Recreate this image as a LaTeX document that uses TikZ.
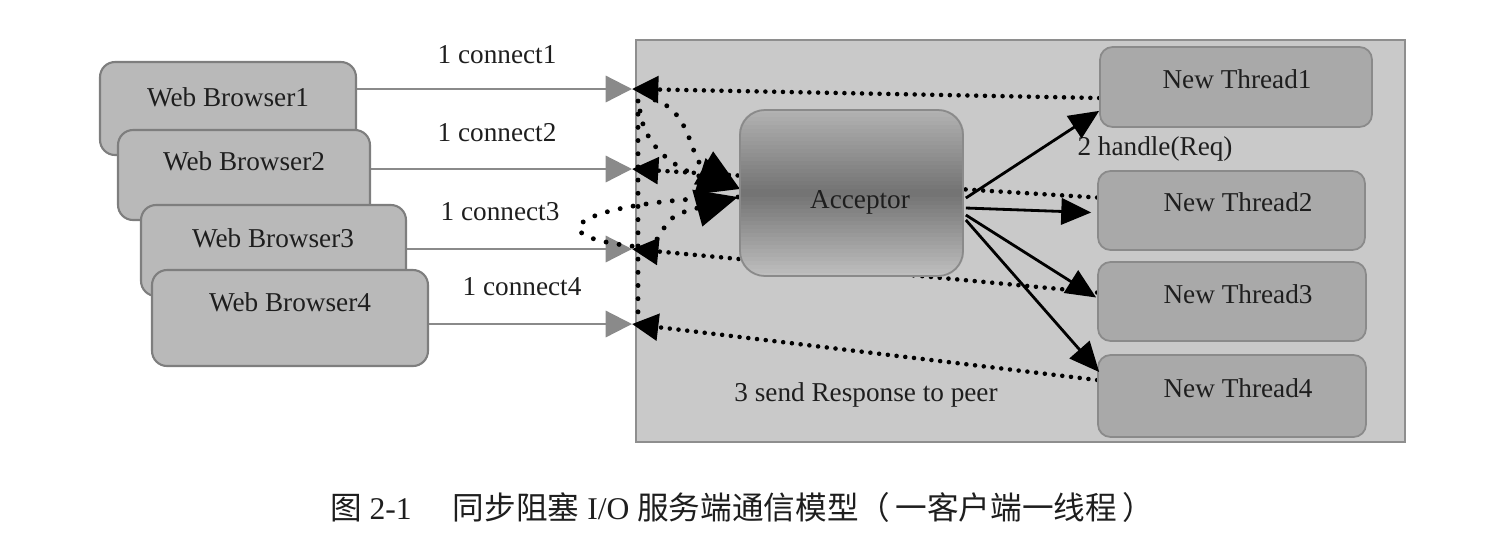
\documentclass[tikz,border=0pt]{standalone}
\usepackage{fontspec}
\setmainfont{Liberation Serif}
\newfontfamily\cjk{Noto Sans CJK SC}
\usetikzlibrary{arrows.meta,calc}
\pgfdeclarelayer{back}
\pgfdeclarelayer{mid}
\pgfdeclarelayer{accbg}
\pgfsetlayers{back,mid,accbg,main}
\definecolor{srvfill}{HTML}{C9C9C9}
\definecolor{srvline}{HTML}{8E8E8E}
\definecolor{brfill}{HTML}{B9B9B9}
\definecolor{brline}{HTML}{7E7E7E}
\definecolor{ntfill}{HTML}{A9A9A9}
\definecolor{ntline}{HTML}{8A8A8A}
\definecolor{acctop}{HTML}{B2B2B2}
\definecolor{accmid}{HTML}{727272}
\definecolor{accbot}{HTML}{BEBEBE}
\definecolor{gline}{HTML}{8A8A8A}
\definecolor{ink}{HTML}{1E1E1E}
\begin{document}
\begin{tikzpicture}[x=0.02cm,y=-0.02cm,
  lbl/.style={font=\fontsize{15.5}{18}\selectfont, text=ink, inner sep=0pt},
  browser/.style={draw=brline, fill=brfill, rounded corners=0.3cm, line width=1.2pt, inner sep=0pt},
  thread/.style={draw=ntline, fill=ntfill, rounded corners=0.25cm, line width=1pt, inner sep=0pt},
  server/.style={draw=srvline, fill=srvfill, line width=1.2pt, inner sep=0pt},
  acceptor/.style={draw=ntline, rounded corners=0.5cm, line width=1pt, inner sep=0pt},
  grayconn/.style={draw=gline, line width=1.3pt, -{Triangle[length=15pt,width=15pt,fill=gline]}},
  dotline/.style={line width=2.6pt, dash pattern=on 0pt off 5pt, line cap=round,
    -{Triangle[length=15pt,width=15pt]}},
  dotcurve/.style={line width=2.8pt, dash pattern=on 0pt off 7.5pt, line cap=round},
  bigtip/.style={-{Triangle[length=24pt,width=21pt]}},
  handle/.style={line width=1.6pt, -{Triangle[length=17pt,width=15pt]}},
  caption/.style={font=\fontsize{18}{21}\selectfont, text=ink, inner sep=0pt}
]
\useasboundingbox (0,0) rectangle (1500,556);

% server box
\begin{pgfonlayer}{back}
\node[server, minimum width=15.38cm, minimum height=8.04cm] (srv) at (1020.5,241) {};
\end{pgfonlayer}

% browsers
\node[browser, minimum width=5.12cm, minimum height=1.86cm] (b1) at (228,108.5) {};
\node[lbl] (b1t) at (228,97) {Web Browser1};
\node[browser, minimum width=5.04cm, minimum height=1.80cm] (b2) at (244,175) {};
\node[lbl] (b2t) at (244,161) {Web Browser2};
\node[browser, minimum width=5.30cm, minimum height=1.82cm] (b3) at (273.5,250.5) {};
\node[lbl] (b3t) at (273,238) {Web Browser3};
\node[browser, minimum width=5.52cm, minimum height=1.92cm] (b4) at (290,318) {};
\node[lbl] (b4t) at (290,302) {Web Browser4};

% threads
\node[thread, minimum width=5.44cm, minimum height=1.60cm] (nt1) at (1236,87) {};
\node[lbl] (nt1t) at (1237,79) {New Thread1};
\node[thread, minimum width=5.34cm, minimum height=1.58cm] (nt2) at (1231.5,210.5) {};
\node[lbl] (nt2t) at (1238,202) {New Thread2};
\node[thread, minimum width=5.36cm, minimum height=1.58cm] (nt3) at (1232,301.5) {};
\node[lbl] (nt3t) at (1238,294) {New Thread3};
\node[thread, minimum width=5.36cm, minimum height=1.64cm] (nt4) at (1232,396) {};
\node[lbl] (nt4t) at (1238,388) {New Thread4};

% acceptor
\node[acceptor, minimum width=4.46cm, minimum height=3.32cm] (acc) at (851.5,193) {};
\begin{pgfonlayer}{accbg}
\begin{scope}
\clip[rounded corners=0.5cm] (acc.south west) rectangle (acc.north east);
\foreach \i in {0,...,41}{
  \pgfmathsetmacro{\t}{\i/41}
  \pgfmathsetmacro{\p}{\t<0.5 ? 200*\t : 200*(1-\t)}
  \ifdim\t pt<0.5pt
    \fill[accmid!\p!acctop] ($(acc.north west)+(0,4*\i-0.5)$) rectangle ($(acc.north east)+(0,4*\i+4.5)$);
  \else
    \fill[accmid!\p!accbot] ($(acc.north west)+(0,4*\i-0.5)$) rectangle ($(acc.north east)+(0,4*\i+4.5)$);
  \fi
}
\end{scope}
\end{pgfonlayer}
\node[lbl] (acct) at (860,202) {Acceptor};

% labels
\node[lbl] (c1) at (497,55) {1 connect1};
\node[lbl] (c2) at (497,133) {1 connect2};
\node[lbl] (c3) at (500,212) {1 connect3};
\node[lbl] (c4) at (522,287) {1 connect4};
\node[lbl] (hr) at (1155,149) {2 handle(Req)};
\node[lbl] (sr) at (866,395) {3 send Response to peer};

% arrow end points
\coordinate (k1) at (632,89);
\coordinate (k2) at (632,169);
\coordinate (k3) at (632,249);
\coordinate (k4) at (632,324);
\coordinate (ta) at (740,189);
\coordinate (tb) at (738,197);

\begin{pgfonlayer}{mid}
% browser connections
\draw[grayconn] (b1.north east |- k1) -- (k1);
\draw[grayconn] (b2.north east |- k2) -- (k2);
\draw[grayconn] (b3.north east |- k3) -- (k3);
\draw[grayconn] (b4.north east |- k4) -- (k4);
% responses
\draw[dotline] ($(nt1.west)+(0,11)$) -- (k1);
\draw[dotline] ($(nt2.west)+(0,-13)$) -- (k2);
\draw[dotline] ($(nt3.west)+(0,-9)$) -- (k3);
\draw[dotline] ($(nt4.west)+(0,-16)$) -- (k4);
% tangled dotted curves
\draw[dotcurve] ($(k1)+(6,12)$) -- ($(k4)+(6,-9)$);
\draw[dotcurve, bigtip] ($(k1)+(23,11)$) .. controls (692,112) and (690,160) .. (ta);
\draw[dotcurve, bigtip] ($(k1)+(8,22)$) .. controls (645,150) and (680,170) .. (ta);
\draw[dotcurve] (tb) .. controls (590,200) and (520,235) .. ($(k3)+(8,-2)$);
\draw[dotcurve, bigtip] ($(k3)+(25,-10)$) .. controls (672,215) .. (tb);
\end{pgfonlayer}

% handle arrows
\draw[handle] ($(acc.east)+(2,5)$) -- ($(nt1.south west)+(0,-17)$);
\draw[handle] ($(acc.east)+(2,15)$) -- ($(nt2.west)+(-6,2)$);
\draw[handle] ($(acc.east)+(2,22)$) -- ($(nt3.west)+(-1,-4)$);
\draw[handle] ($(acc.east)+(2,27)$) -- ($(nt4.west)+(2,-24)$);

% caption
\node[caption] (cap) at (742,507) {{\cjk 图} 2-1\hspace{1.3em}{\cjk 同步阻塞} I/O {\cjk 服务端通信模型（\,一客户端一线程\,）}};
\end{tikzpicture}
\end{document}
